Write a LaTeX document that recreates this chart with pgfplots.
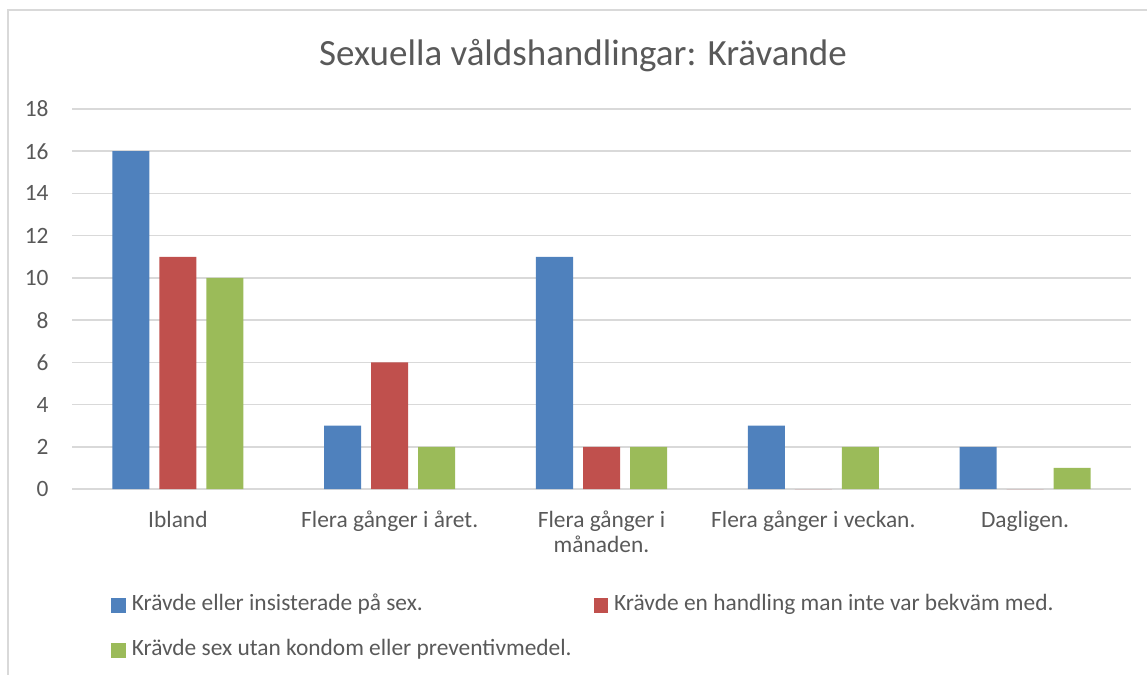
\documentclass[border=0pt]{standalone}
\usepackage{fontspec}
\setmainfont{Carlito}
\usepackage{pgfplots}
\pgfplotsset{compat=1.18}
\definecolor{cblue}{HTML}{4F81BD}
\definecolor{cred}{HTML}{C0504D}
\definecolor{cgreen}{HTML}{9BBB59}
\definecolor{ctext}{HTML}{595959}
\definecolor{cgrid}{HTML}{D9D9D9}

\pgfplotsset{
  sq/.style={legend image code/.code={\fill[##1] (0pt,-3.6pt) rectangle (7.2pt,3.6pt);}},
}

\begin{document}
\begin{tikzpicture}
% frame of the chart area (cut off at right and bottom)
\path[use as bounding box] (0,0) rectangle (573.5pt,-337.5pt);
\draw[cgrid, line width=0.75pt] (4pt,-337.5pt) -- (4pt,-5pt) -- (573.5pt,-5pt);
\node[ctext, anchor=base, font=\fontsize{18.5}{22}\selectfont] at (291.5pt,-32.5pt)
  {Sexuella våldshandlingar: Krävande};

\begin{axis}[
  at={(36pt,-244.5pt)}, anchor=south west,
  scale only axis, width=529.5pt, height=190pt,
  ybar=5pt, bar width=18.5pt,
  xmin=-0.5, xmax=4.5, ymin=0, ymax=18,
  xtick={0,...,4}, ytick={0,2,...,18},
  xticklabels={Ibland, Flera gånger i året., {Flera gånger i\\månaden.}, Flera gånger i veckan., Dagligen.},
  axis line style={draw=none},
  major tick length=0pt,
  ymajorgrids, grid style={cgrid, line width=0.75pt},
  tick label style={text=ctext, font=\fontsize{11.7}{12.5}\selectfont},
  /pgf/number format/assume math mode=true,
  yticklabel style={anchor=east, inner sep=0pt, xshift=-11.5pt},
  xticklabel style={anchor=north, inner sep=0pt, align=center, yshift=-11pt},
  legend columns=2,
  legend cell align=left,
  legend style={at={(0.0368,-0.279)}, anchor=north west, draw=none, fill=none,
    inner sep=0pt, column sep=3pt, row sep=12.5pt,
    nodes={inner sep=0pt, text=ctext, font=\fontsize{11.7}{13}\selectfont,
      text height=7.5pt, text depth=2.5pt}},
]
\addplot[sq, fill=cblue, draw=none] coordinates {(0,16) (1,3) (2,11) (3,3) (4,2)};
\addlegendentry{\makebox[228pt][l]{Krävde eller insisterade på sex.}}
\addplot[sq, fill=cred, draw=none] coordinates {(0,11) (1,6) (2,2) (3,0) (4,0)};
\addlegendentry{Krävde en handling man inte var bekväm med.}
\addplot[sq, fill=cgreen, draw=none] coordinates {(0,10) (1,2) (2,2) (3,2) (4,1)};
\addlegendentry{Krävde sex utan kondom eller preventivmedel.}
\end{axis}
\end{tikzpicture}
\end{document}
